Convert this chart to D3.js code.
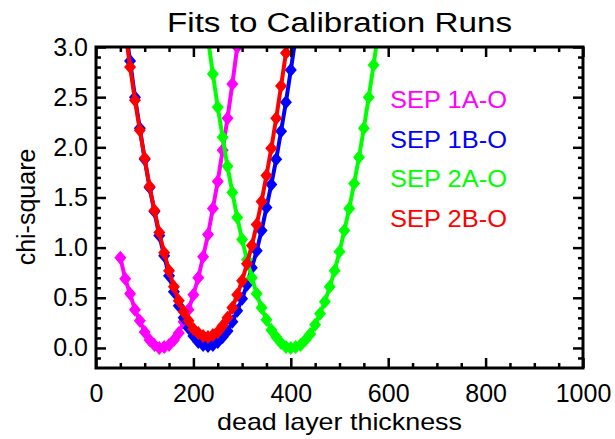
<!DOCTYPE html>
<html>
<head>
<meta charset="utf-8">
<script src="https://cdn.jsdelivr.net/npm/d3@7"></script>
<style>
html,body{margin:0;padding:0;background:#fff;}
svg text{font-family:"Liberation Sans",Arial,Helvetica,sans-serif;}
</style>
</head>
<body>
<svg id="chart" width="615" height="439"></svg>
<script>
// ---- data ----
const title = "Fits to Calibration Runs";
const xTitle = "dead layer thickness";
const yTitle = "chi-square";
const seriesNames = ["SEP 1A-O", "SEP 1B-O", "SEP 2A-O", "SEP 2B-O"];
const seriesColors = ["#ff00ff", "#0000ff", "#00ff00", "#ff0000"];

const x1A = [50,60,70,80,90,100,110,120,130,140,150,160,170,180,190,200,210,220,230,240,250,260,270,280,290,300];
const y1A = [0.90,0.69,0.54,0.38,0.27,0.16,0.08,0.03,0.00,0.01,0.03,0.08,0.15,0.26,0.38,0.53,0.70,0.91,1.13,1.39,1.66,1.97,2.29,2.63,3.00,3.40];

const x1B = [50,60,70,80,90,100,110,120,130,140,150,160,170,180,190,200,210,220,230,240,250,260,270,280,290,300,310,320,330,340,350,360,370,380,390,400,410,420];
const y1B = [3.58,3.20,2.86,2.50,2.19,1.88,1.60,1.36,1.12,0.92,0.72,0.56,0.42,0.30,0.20,0.12,0.06,0.03,0.02,0.03,0.06,0.11,0.17,0.26,0.37,0.49,0.63,0.80,0.97,1.17,1.40,1.63,1.88,2.16,2.45,2.77,3.10,3.45];

const x2A = [220,230,240,250,260,270,280,290,300,310,320,330,340,350,360,370,380,390,400,410,420,430,440,450,460,470,480,490,500,510,520,530,540,550,560,570,580];
const y2A = [3.44,3.08,2.73,2.40,2.10,1.81,1.55,1.30,1.08,0.88,0.70,0.54,0.40,0.28,0.18,0.11,0.05,0.01,0.00,0.01,0.03,0.08,0.14,0.23,0.34,0.46,0.61,0.77,0.96,1.17,1.39,1.64,1.90,2.19,2.50,2.82,3.17];

const x2B = [50,60,70,80,90,100,110,120,130,140,150,160,170,180,190,200,210,220,230,240,250,260,270,280,290,300,310,320,330,340,350,360,370,380,390,400];
const y2B = [3.53,3.16,2.80,2.47,2.17,1.89,1.61,1.37,1.15,0.95,0.77,0.61,0.47,0.36,0.27,0.19,0.15,0.12,0.11,0.13,0.16,0.22,0.30,0.40,0.53,0.67,0.84,1.02,1.23,1.46,1.72,1.99,2.29,2.61,2.94,3.31];

const xMajor = [0,200,400,600,800,1000];
const xMinor = [50,100,150,250,300,350,450,500,550,650,700,750,850,900,950];
const yMajor = [0.0,0.5,1.0,1.5,2.0,2.5,3.0];
const yMinor = [-0.1,0.1,0.2,0.3,0.4,0.6,0.7,0.8,0.9,1.1,1.2,1.3,1.4,1.6,1.7,1.8,1.9,2.1,2.2,2.3,2.4,2.6,2.7,2.8,2.9];

const xDomain = [0, 1000];
const yDomain = [-0.2, 3.0];

// ---- layout ----
const L = 96, R = 583, T = 47, B = 368;
const svg = d3.select("#chart");
const x = d3.scaleLinear().domain(xDomain).range([L, R]);
const y = d3.scaleLinear().domain(yDomain).range([B, T]);

svg.append("defs").append("clipPath").attr("id","clip")
  .append("rect").attr("x",L).attr("y",T).attr("width",R-L).attr("height",B-T);

const series = [
  {xs:x1A, ys:y1A},
  {xs:x1B, ys:y1B},
  {xs:x2A, ys:y2A},
  {xs:x2B, ys:y2B}
];

const line = d3.line().x(d=>x(d[0])).y(d=>y(d[1]));
const diamond = "M0,-7L6,0L0,7L-6,0Z";
const plot = svg.append("g").attr("clip-path","url(#clip)");
series.forEach((s,i)=>{
  const pts = s.xs.map((v,j)=>[v, s.ys[j]]);
  const g = plot.append("g");
  g.append("path").datum(pts).attr("d",line)
    .attr("fill","none").attr("stroke",seriesColors[i]).attr("stroke-width",4)
    .attr("stroke-linejoin","round");
  g.selectAll("path.pt").data(pts).enter().append("path").attr("class","pt")
    .attr("d",diamond)
    .attr("transform",d=>`translate(${x(d[0])},${y(d[1])})`)
    .attr("fill",seriesColors[i]);
});

// ---- axes ----
function styleAxis(g){
  g.select(".domain").remove();
  g.selectAll(".tick line").attr("stroke","#000").attr("stroke-width",2.5);
  g.selectAll("text").attr("fill","#000").style("font-size","25px")
    .style("font-family","'Liberation Sans',Arial,sans-serif");
}
const fmtY = d3.format(".1f");
svg.append("g").attr("transform",`translate(0,${B})`)
  .call(d3.axisBottom(x).tickValues(xMajor).tickSize(-10).tickPadding(16).tickFormat(d3.format("d")))
  .call(styleAxis);
svg.append("g").attr("transform",`translate(0,${B})`)
  .call(d3.axisBottom(x).tickValues(xMinor).tickSize(-5).tickFormat(""))
  .call(styleAxis);
svg.append("g").attr("transform",`translate(0,${T})`)
  .call(d3.axisTop(x).tickValues(xMajor).tickSize(-10).tickFormat(""))
  .call(styleAxis);
svg.append("g").attr("transform",`translate(0,${T})`)
  .call(d3.axisTop(x).tickValues(xMinor).tickSize(-5).tickFormat(""))
  .call(styleAxis);
svg.append("g").attr("transform",`translate(${L},0)`)
  .call(d3.axisLeft(y).tickValues(yMajor).tickSize(-10).tickPadding(8).tickFormat(fmtY))
  .call(styleAxis);
svg.append("g").attr("transform",`translate(${L},0)`)
  .call(d3.axisLeft(y).tickValues(yMinor).tickSize(-5).tickFormat(""))
  .call(styleAxis);
svg.append("g").attr("transform",`translate(${R},0)`)
  .call(d3.axisRight(y).tickValues(yMajor).tickSize(-10).tickFormat(""))
  .call(styleAxis);
svg.append("g").attr("transform",`translate(${R},0)`)
  .call(d3.axisRight(y).tickValues(yMinor).tickSize(-5).tickFormat(""))
  .call(styleAxis);

svg.append("rect").attr("x",L).attr("y",T).attr("width",R-L).attr("height",B-T)
  .attr("fill","none").attr("stroke","#000").attr("stroke-width",3);

// ---- titles ----
svg.append("text").attr("x",(L+R)/2).attr("y",32).attr("text-anchor","middle")
  .style("font-size","27px").attr("textLength",345).attr("lengthAdjust","spacingAndGlyphs")
  .text(title);
svg.append("text").attr("x",(L+R)/2).attr("y",430).attr("text-anchor","middle")
  .style("font-size","24px").attr("textLength",245).attr("lengthAdjust","spacingAndGlyphs")
  .text(xTitle);
svg.append("text").attr("transform","translate(35,207) rotate(-90)").attr("text-anchor","middle")
  .style("font-size","25px").text(yTitle);

// ---- legend ----
const legend = svg.append("g");
seriesNames.forEach((n,i)=>{
  legend.append("text").attr("x",390).attr("y",108 + i*39.6)
    .style("font-size","24px").attr("fill",seriesColors[i])
    .attr("textLength",117).attr("lengthAdjust","spacingAndGlyphs")
    .text(n);
});
</script>
</body>
</html>
